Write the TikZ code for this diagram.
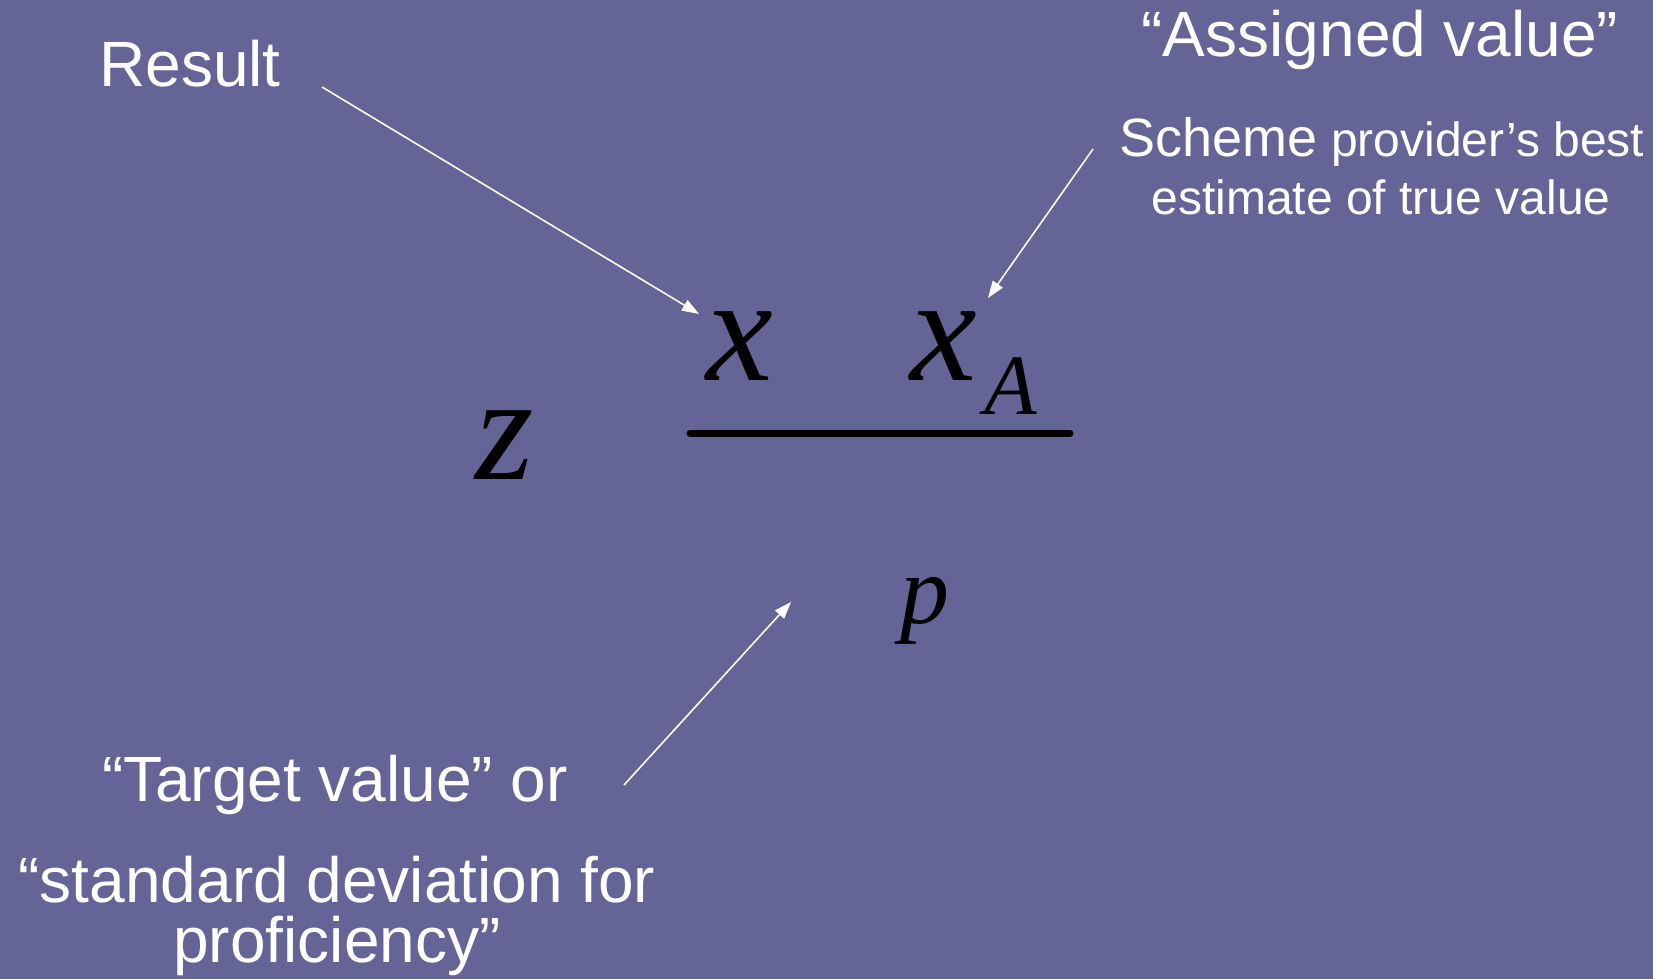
\documentclass[tikz,border=0pt]{standalone}
\usepackage{fontspec}
\setmainfont{Liberation Sans}
\newfontfamily\formfont{Liberation Serif}
\usetikzlibrary{calc, arrows.meta}

\definecolor{slidebg}{RGB}{100,100,150}

\tikzset{
    label/.style={text=white, inner sep=0pt, anchor=base, font=\fontsize{64}{64}\selectfont},
    note/.style={text=white, inner sep=0pt, anchor=base, font=\fontsize{48}{48}\selectfont},
    sym/.style={text=black, inner sep=0pt, anchor=base, font=\formfont\itshape\fontsize{150}{150}\selectfont},
    pointer/.style={draw=white, line width=1.6pt, -{Triangle[length=17pt, width=12pt]}}
}

\begin{document}
\begin{tikzpicture}[x=1pt, y=-1pt]
    % Slide background
    \fill[slidebg] (0,0) rectangle (1653,979);
    \useasboundingbox (0,0) rectangle (1653,979);

    % Formula parts
    \node[sym] (z) at (505,479) {z};
    \node[sym] (xres) at (740,380) {x};
    \node[sym] (xass) at (944,380) {x};
    \node[sym, font=\formfont\itshape\fontsize{86}{86}\selectfont] (sub) at (1011,414) {A};
    \node[sym, font=\formfont\itshape\fontsize{98}{98}\selectfont] (sig) at (925,623) {p};
    \draw[line width=7pt, line cap=round] (690,433) -- (1070,433); % fraction bar

    % Labels
    \node[label] (res) at (190,87) {Result};
    \node[label] (ass) at (1380,57) {“Assigned value”};
    \node[note] (best) at (1382,156) {{\fontsize{54}{54}\selectfont Scheme} provider’s best};
    \node[note] (est) at (1381,214) {estimate of true value};
    \node[label] (tgt) at (335,801) {“Target value” or};
    \node[label] (std) at (337,902) {“standard deviation for};
    \node[label] (prof) at (337,962) {proficiency”};

    % Arrow ends
    \coordinate (a1) at (322,87);
    \coordinate (b1) at (699,314);
    \coordinate (a2) at (1093,149);
    \coordinate (b2) at (988,298);
    \coordinate (a3) at (624,785);
    \coordinate (b3) at (791,602);

    \draw[pointer] (a1) -- (b1);
    \draw[pointer] (a2) -- (b2);
    \draw[pointer] (a3) -- (b3);
\end{tikzpicture}
\end{document}
